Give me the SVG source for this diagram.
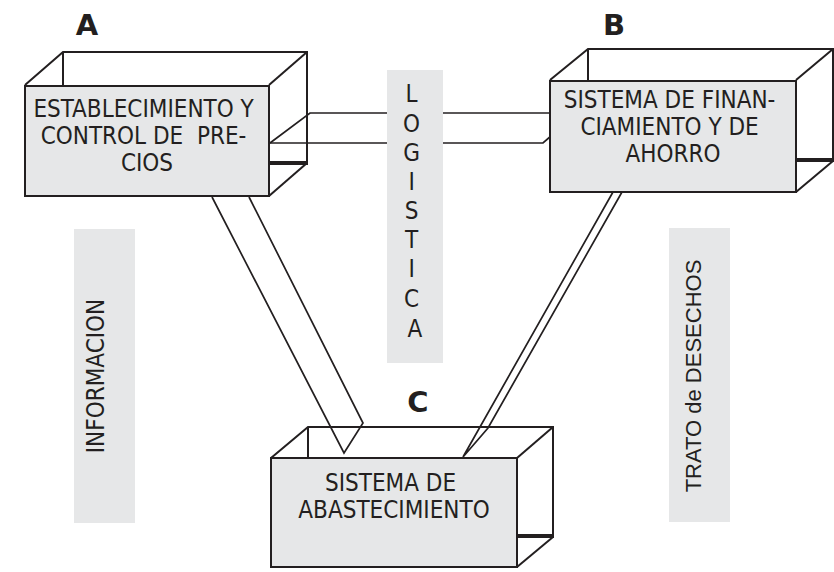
<svg xmlns="http://www.w3.org/2000/svg" width="834" height="572" viewBox="0 0 834 572">
  <style>
    .face { fill: #e6e7e8; stroke: #231f20; stroke-width: 2; }
    .edge { fill: none; stroke: #231f20; stroke-width: 2; stroke-linejoin: miter; }
    .thick { fill: none; stroke: #231f20; stroke-width: 4; }
    .conn { fill: none; stroke: #231f20; stroke-width: 1.7; stroke-linejoin: miter; }
    .band { fill: #e6e7e8; }
    .txt { font-family: "DejaVu Sans Condensed", "DejaVu Sans", sans-serif; font-size: 24px; fill: #231f20; text-anchor: middle; }
    .arial { font-family: "Liberation Sans", "Arial", sans-serif; font-size: 22px; fill: #231f20; text-anchor: middle; }
    .letter { font-family: "DejaVu Sans", "Verdana", sans-serif; font-size: 29px; font-weight: bold; fill: #231f20; text-anchor: middle; }
  </style>

  <!-- side bands -->
  <g id="logistica">
    <rect class="band" x="387" y="70" width="56" height="293"/>
    <text class="txt" font-size="22.5">
      <tspan x="415" y="102">L</tspan>
      <tspan x="415" y="131.5">O</tspan>
      <tspan x="415" y="161">G</tspan>
      <tspan x="415" y="190">I</tspan>
      <tspan x="415" y="219">S</tspan>
      <tspan x="415" y="248">T</tspan>
      <tspan x="415" y="277">I</tspan>
      <tspan x="415" y="307">C</tspan>
      <tspan x="415" y="337">A</tspan>
    </text>
  </g>

  <g id="informacion">
    <rect class="band" x="74" y="229" width="61" height="294"/>
    <text class="txt" font-size="24.5" transform="translate(104,376) rotate(-90)" x="0" y="0">INFORMACION</text>
  </g>

  <g id="trato">
    <rect class="band" x="669" y="228" width="61" height="294"/>
    <text class="arial" transform="translate(701,376) rotate(-90)" x="0" y="0">TRATO de DESECHOS</text>
  </g>

  <!-- connectors between the three boxes -->
  <g id="connectors">
    <!-- A to B through the logistics band -->
    <polyline class="conn" points="270,143 310,113 387,113"/>
    <line class="conn" x1="270" y1="143" x2="387" y2="143"/>
    <line class="conn" x1="443" y1="113" x2="550" y2="113"/>
    <polyline class="conn" points="443,143 543,143 551,136"/>
    <!-- A to C -->
    <polyline class="conn" points="212,197 344,453 363,423 249,197"/>
    <!-- B to C -->
    <polyline class="conn" points="613,192 463,457 488,428 622,192"/>
  </g>

  <!-- box A -->
  <g id="box-a">
    <polyline class="edge" points="25,85 63,52 307,52 307,163"/>
    <line class="edge" x1="63" y1="52" x2="63" y2="86"/>
    <line class="edge" x1="269" y1="85" x2="307" y2="52"/>
    <line class="edge" x1="269" y1="196" x2="307" y2="163"/>
    <line class="thick" x1="269" y1="163" x2="308" y2="163"/>
    <rect class="face" x="25" y="86" width="244" height="110"/>
    <text class="txt">
      <tspan x="147" y="117">ESTABLECIMIENTO Y</tspan>
      <tspan x="147" y="144" xml:space="preserve">CONTROL DE  PRE-</tspan>
      <tspan x="147" y="171">CIOS</tspan>
    </text>
    <text class="letter" x="87" y="35">A</text>
  </g>

  <!-- box B -->
  <g id="box-b">
    <polyline class="edge" points="550,80 588,49 833,49 833,161"/>
    <line class="edge" x1="588" y1="49" x2="588" y2="81"/>
    <line class="edge" x1="796" y1="80" x2="833" y2="49"/>
    <line class="edge" x1="796" y1="192" x2="833" y2="161"/>
    <line class="thick" x1="796" y1="160" x2="834" y2="160"/>
    <rect class="face" x="550" y="81" width="246" height="111"/>
    <text class="txt">
      <tspan x="673" y="108">SISTEMA DE FINAN-</tspan>
      <tspan x="673" y="135">CIAMIENTO Y DE</tspan>
      <tspan x="673" y="162">AHORRO</tspan>
    </text>
    <text class="letter" x="614" y="35">B</text>
  </g>

  <!-- box C -->
  <g id="box-c">
    <polyline class="edge" points="271,458 308,427 553,427 553,537"/>
    <line class="edge" x1="308" y1="427" x2="308" y2="459"/>
    <line class="edge" x1="517" y1="458" x2="553" y2="427"/>
    <line class="edge" x1="517" y1="567" x2="553" y2="537"/>
    <line class="thick" x1="517" y1="536" x2="554" y2="536"/>
    <rect class="face" x="271" y="458" width="246" height="109"/>
    <text class="txt">
      <tspan x="394" y="491">SISTEMA DE</tspan>
      <tspan x="394" y="518">ABASTECIMIENTO</tspan>
    </text>
    <text class="letter" x="418" y="412">C</text>
  </g>
</svg>
